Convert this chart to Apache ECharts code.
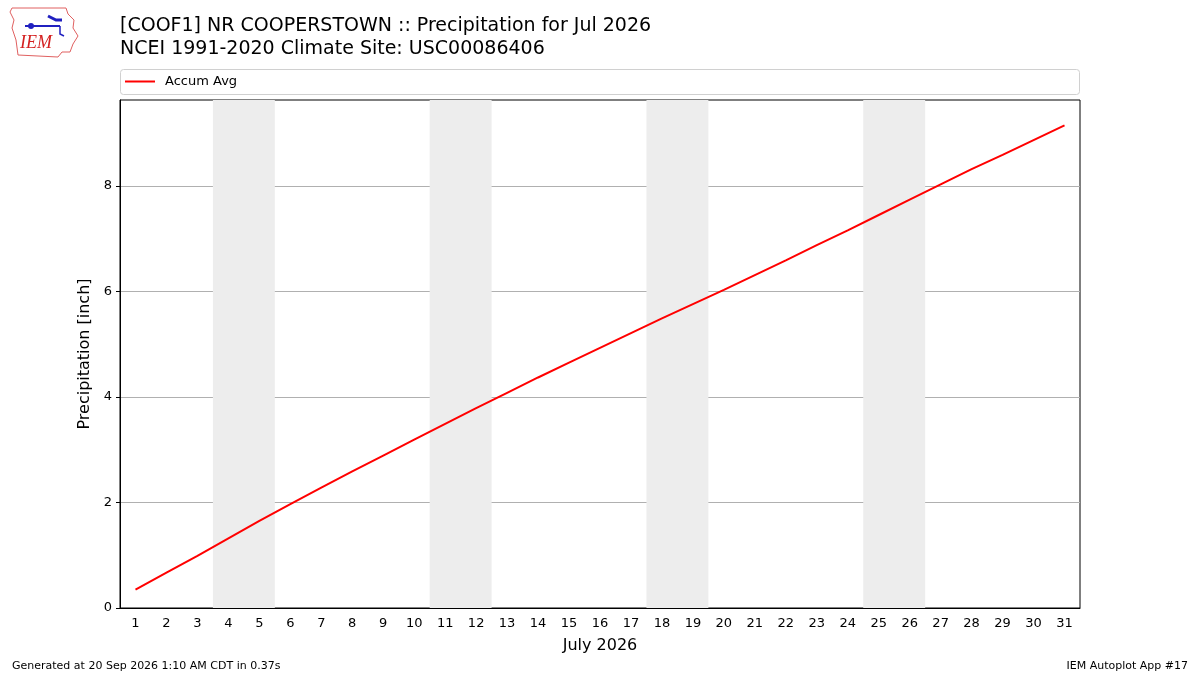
<!DOCTYPE html>
<html>
<head>
<meta charset="utf-8">
<script src="https://cdn.jsdelivr.net/npm/echarts@6/dist/echarts.min.js"></script>
<style>
  html, body { margin: 0; padding: 0; background: #fff; }
  #chart { width: 1200px; height: 675px; }
</style>
</head>
<body>
<div id="chart"></div>
<script>
// days of July 2026
var days = [];
for (var d = 1; d <= 31; d++) days.push(String(d));
// accumulated average precipitation (inch)
var accumAvg = [0.35, 0.67, 0.99, 1.32, 1.65, 1.97, 2.28, 2.59, 2.89, 3.19,
                3.49, 3.79, 4.08, 4.37, 4.65, 4.93, 5.21, 5.49, 5.76, 6.03,
                6.31, 6.59, 6.88, 7.16, 7.45, 7.74, 8.03, 8.32, 8.59, 8.87, 9.15];
// weekends (Sat, Sun) in Jul 2026
var weekendStart = [4, 11, 18, 25];
var weekendEnd = [5, 12, 19, 26];
var yTicks = [0, 2, 4, 6, 8];

var font = 'DejaVu Sans';
var shade = [];
for (var i = 0; i < weekendStart.length; i++) {
    shade.push([{xAxis: weekendStart[i] - 0.5}, {xAxis: weekendEnd[i] + 0.5}]);
}

var myChart = echarts.init(document.getElementById('chart'));
var option = {
    backgroundColor: '#fff',
    animation: false,
    textStyle: {fontFamily: font},
    title: [
        {text: '[COOF1] NR COOPERSTOWN :: Precipitation for Jul 2026\nNCEI 1991-2020 Climate Site: USC00086406',
         left: 120, top: 15, padding: 0,
         textStyle: {fontFamily: font, fontSize: 19, fontWeight: 'normal', color: '#000', lineHeight: 23}},
        {text: 'Generated at 20 Sep 2026 1:10 AM CDT in 0.37s', left: 12, top: 661, padding: 0,
         textStyle: {fontFamily: font, fontSize: 11, fontWeight: 'normal', color: '#000'}},
        {text: 'IEM Autoplot App #17', right: 12, top: 661, padding: 0,
         textStyle: {fontFamily: font, fontSize: 11, fontWeight: 'normal', color: '#000'}}
    ],
    graphic: [
        {type: 'rect', shape: {x: 120.5, y: 69.5, width: 959, height: 25, r: 3},
         style: {fill: '#fff', stroke: '#d0d0d0', lineWidth: 1}, z: 0},
        {type: 'polyline', shape: {points: [[12, 8], [66, 8], [68, 14], [74, 20], [73, 28], [78, 36], [73, 44], [70, 52], [62, 52], [58, 57], [18, 55], [16, 40], [12, 28], [14, 20], [10, 12], [12, 8]]},
         style: {stroke: '#e06060', fill: null, lineWidth: 1}},
        {type: 'text', left: 20, top: 34,
         style: {text: 'IEM', fill: '#d42020', font: 'italic 18px "Liberation Serif"'}},
        {type: 'polyline', shape: {points: [[25, 26], [60, 26]]},
         style: {stroke: '#2020c0', lineWidth: 2}},
        {type: 'circle', shape: {cx: 31, cy: 26, r: 3}, style: {fill: '#2020c0'}},
        {type: 'polyline', shape: {points: [[48, 16], [56, 20], [62, 20]]},
         style: {stroke: '#2020c0', lineWidth: 3}},
        {type: 'polyline', shape: {points: [[60, 26], [60, 34], [64, 36]]},
         style: {stroke: '#2020c0', lineWidth: 1.5}}
    ],
    legend: {
        left: 120, top: 70, itemWidth: 30, itemHeight: 2, itemGap: 10,
        icon: 'rect',
        textStyle: {fontFamily: font, fontSize: 13, color: '#000', padding: [0, 0, 0, 5]},
        data: ['Accum Avg']
    },
    grid: {left: 120, right: 120, top: 100, bottom: 67, show: true, borderColor: '#000', borderWidth: 1, backgroundColor: 'transparent'},
    xAxis: [
        {
            type: 'category', data: days, boundaryGap: true,
            name: 'July 2026', nameLocation: 'middle', nameGap: 30,
            nameTextStyle: {fontFamily: font, fontSize: 16, color: '#000'},
            axisLine: {lineStyle: {color: '#000'}},
            axisTick: {alignWithLabel: true, length: 4, lineStyle: {color: '#000'}},
            axisLabel: {interval: 0, fontFamily: font, fontSize: 13, color: '#000', margin: 9},
            splitLine: {show: false}
        },
        {
            type: 'value', min: 0.5, max: 31.5, show: false
        }
    ],
    yAxis: {
        type: 'value', min: 0, max: 9.63,
        name: 'Precipitation [inch]', nameLocation: 'middle', nameGap: 25,
        nameTextStyle: {fontFamily: font, fontSize: 16, color: '#000'},
        axisLine: {show: true, lineStyle: {color: '#000'}},
        axisTick: {show: true, length: 4, lineStyle: {color: '#000'}, customValues: yTicks},
        axisLabel: {fontFamily: font, fontSize: 13, color: '#000', margin: 8, customValues: yTicks},
        splitLine: {show: true, lineStyle: {color: '#b0b0b0', width: 1}}
    },
    series: [
        {
            name: 'weekend', type: 'line', xAxisIndex: 1, data: [], silent: true,
            markArea: {silent: true, itemStyle: {color: '#ededed'}, data: shade},
            z: 1
        },
        {
            name: 'Accum Avg', type: 'line', xAxisIndex: 0, data: accumAvg,
            showSymbol: false, symbol: 'none',
            lineStyle: {color: '#ff0000', width: 2},
            itemStyle: {color: '#ff0000'},
            z: 3
        }
    ]
};
myChart.setOption(option);
window.addEventListener('resize', function () {
    myChart.resize();
});
</script>
</body>
</html>
